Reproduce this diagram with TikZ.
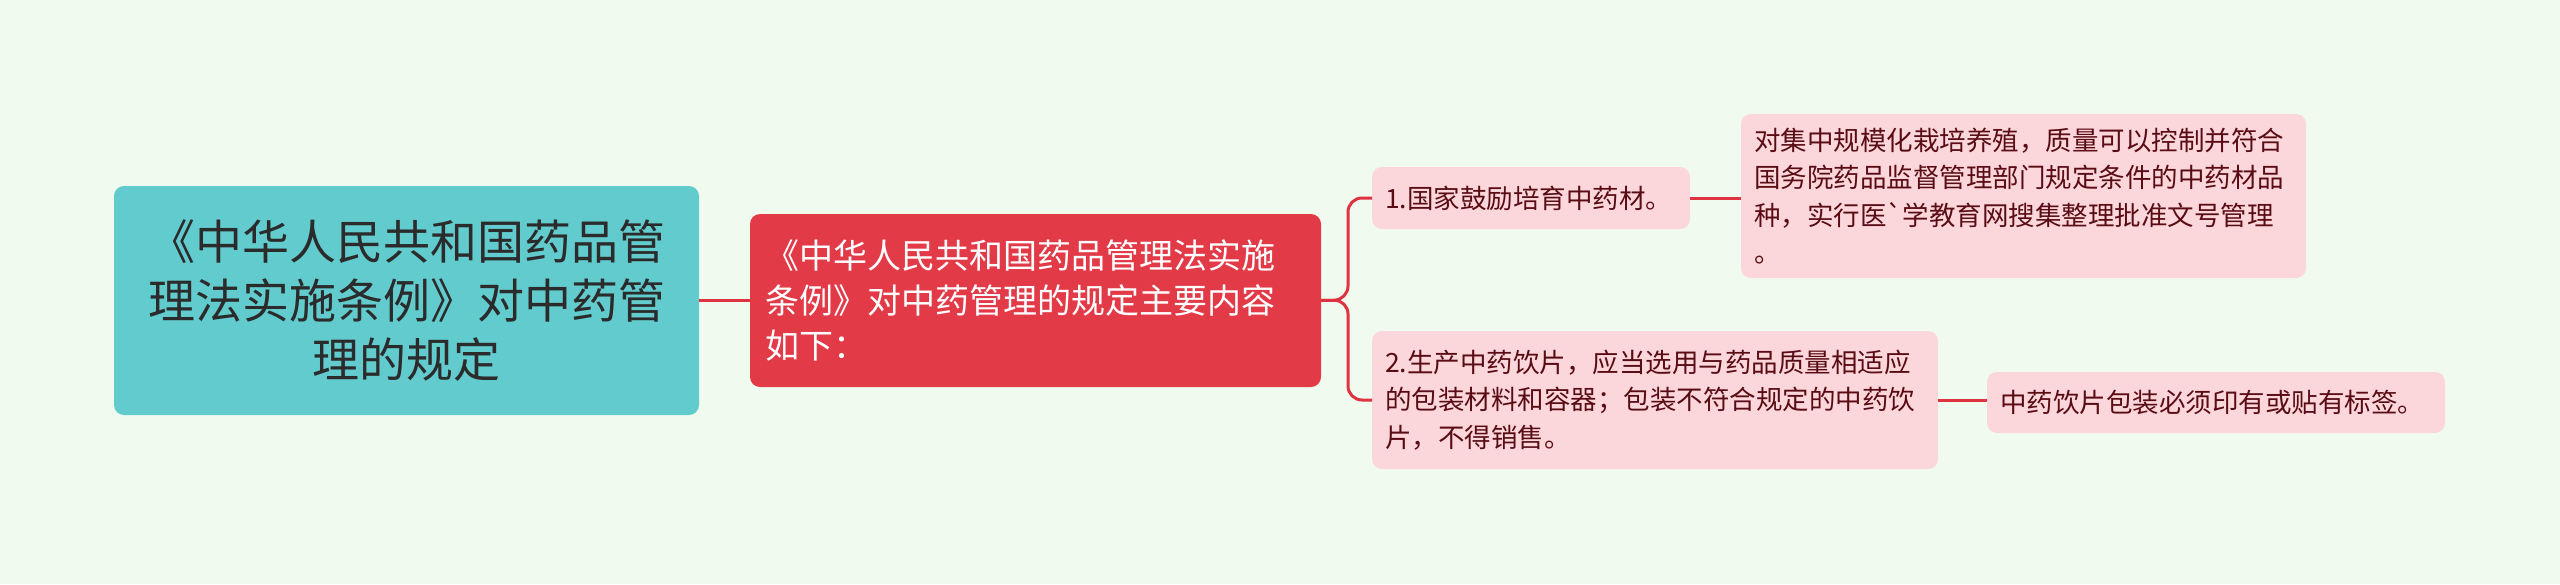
\documentclass[tikz,border=0pt]{standalone}
\usepackage{fontspec}
\newfontfamily\cjk{Noto Sans CJK SC}
\definecolor{bgc}{HTML}{F0FAEF}
\definecolor{rootc}{HTML}{62CBCE}
\definecolor{mainc}{HTML}{E33A48}
\definecolor{leafc}{HTML}{FBD7DB}
\definecolor{leaftext}{HTML}{5A0C14}
\definecolor{roottext}{HTML}{2B2B2B}
\definecolor{linec}{HTML}{DF3342}
\tikzset{
  box/.style={rounded corners=10pt, inner sep=0pt, outer sep=0pt, draw=none},
  rootbox/.style={box, fill=rootc, text=roottext, align=center,
    font=\cjk\fontsize{47}{59}\selectfont},
  mainbox/.style={box, fill=mainc, text=white, align=left,
    font=\cjk\fontsize{34}{45}\selectfont},
  leafbox/.style={box, fill=leafc, text=leaftext, align=left,
    font=\cjk\fontsize{26.5}{37.5}\selectfont},
  conn/.style={draw=linec, line width=3pt, rounded corners=14pt}
}
\begin{document}
\begin{tikzpicture}[x=1pt,y=-1pt]
\fill[bgc] (0,0) rectangle (2560,584);
\useasboundingbox (0,0) rectangle (2560,584);

\node[rootbox, minimum width=585pt, minimum height=229pt, text width=560pt] (root) at (406.5,300.5)
  {《中华人民共和国药品管\\理法实施条例》对中药管\\理的规定};

\node[mainbox, minimum width=571pt, minimum height=173pt, text width=541pt] (main) at (1035.5,300.5)
  {《中华人民共和国药品管理法实施\\条例》对中药管理的规定主要内容\\如下：};

\node[leafbox, minimum width=318pt, minimum height=62pt, text width=292pt] (n1) at (1531,198)
  {1.国家鼓励培育中药材。};

\node[leafbox, minimum width=565pt, minimum height=164pt, text width=539pt] (n1a) at (2023.5,196)
  {对集中规模化栽培养殖，质量可以控制并符合\\国务院药品监督管理部门规定条件的中药材品\\种，实行医`学教育网搜集整理批准文号管理\\。};

\node[leafbox, minimum width=566pt, minimum height=138pt, text width=540pt] (n2) at (1655,400)
  {2.生产中药饮片，应当选用与药品质量相适应\\的包装材料和容器；包装不符合规定的中药饮\\片，不得销售。};

\node[leafbox, minimum width=458pt, minimum height=61pt, text width=432pt] (n2a) at (2216,402.5)
  {中药饮片包装必须印有或贴有标签。};

\coordinate (bx) at (1348,300);
\draw[conn] (root.east) -- (main.west);
\draw[conn] (main.east) -- (bx) |- (n1.west);
\draw[conn] (main.east) -- (bx) |- (n2.west);
\draw[conn] (n1.east) -- (n1a.west |- n1.east);
\draw[conn] (n2.east) -- (n2a.west |- n2.east);
\end{tikzpicture}
\end{document}
